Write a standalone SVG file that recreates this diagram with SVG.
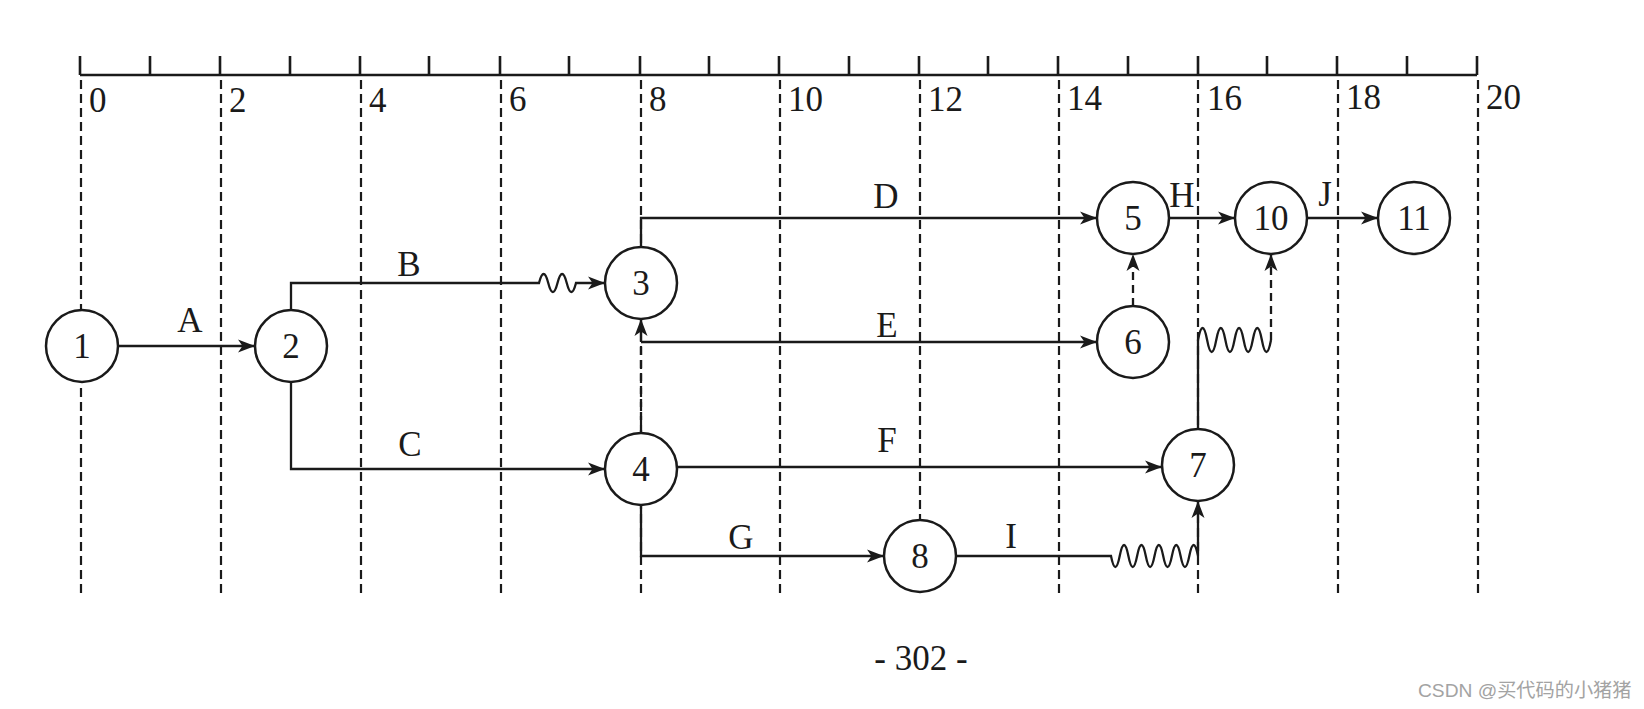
<svg xmlns="http://www.w3.org/2000/svg" width="1644" height="709" viewBox="0 0 1644 709">
<style>
.ax{stroke:#1a1a1a;stroke-width:2.6;fill:none}
.grid{stroke:#1a1a1a;stroke-width:2.2;stroke-dasharray:9 5;fill:none}
.ln{stroke:#1a1a1a;stroke-width:2.3;fill:none}
.dl{stroke:#1a1a1a;stroke-width:2.3;fill:none;stroke-dasharray:8 5}
.nd{fill:#fff;stroke:#1a1a1a;stroke-width:2.5}
.t{font-family:"Liberation Serif","Times New Roman",serif;font-size:35px;fill:#1a1a1a}
.c{text-anchor:middle}
.wm{font-family:"Liberation Sans","Noto Sans CJK SC",sans-serif;font-size:19.2px;fill:#a3a3a3}
</style>
<defs>
<marker id="ah" markerUnits="userSpaceOnUse" markerWidth="18" markerHeight="14" refX="17" refY="7" orient="auto">
<path d="M0,0.5 L17,7 L0,13.5 L4.5,7 z" fill="#1a1a1a"/>
</marker>
</defs>
<rect width="1644" height="709" fill="#fff"/>
<g id="axis">
<path class="ax" d="M80,75 H1477"/>
<path class="ax" d="M80,56 V75 M150,56 V75 M220,56 V75 M290,56 V75 M360,56 V75 M429,56 V75 M500,56 V75 M569,56 V75 M640,56 V75 M709,56 V75 M779,56 V75 M849,56 V75 M919,56 V75 M988,56 V75 M1058,56 V75 M1128,56 V75 M1198,56 V75 M1267,56 V75 M1337,56 V75 M1407,56 V75 M1477,56 V75"/>
<g class="t">
<text x="89" y="112">0</text>
<text x="229" y="112">2</text>
<text x="369" y="112">4</text>
<text x="509" y="111">6</text>
<text x="649" y="111">8</text>
<text x="788" y="111">10</text>
<text x="928" y="111">12</text>
<text x="1067" y="110">14</text>
<text x="1207" y="110">16</text>
<text x="1346" y="109">18</text>
<text x="1486" y="109">20</text>
</g>
</g>
<g id="grid">
<path class="grid" d="M81,80 V596 M221,80 V596 M361,80 V596 M501,80 V596 M641,80 V596 M780,80 V596 M920,80 V596 M1059,80 V596 M1198,80 V596 M1338,80 V596 M1478,80 V596"/>
</g>
<g id="connectors">
<path class="ln" d="M119,346 H255" marker-end="url(#ah)"/>
<path class="ln" d="M291,310 V283 H539 q4.625,-18 9.25,0 t9.25,0 t9.25,0 t9.25,0 H605" marker-end="url(#ah)"/>
<path class="ln" d="M291,382 V469 H605" marker-end="url(#ah)"/>
<path class="ln" d="M641,247 V218 H1097" marker-end="url(#ah)"/>
<path class="ln" d="M641,342 H1097" marker-end="url(#ah)"/>
<path class="dl" d="M641,433 V342"/>
<path class="ln" d="M641,342 V319" marker-end="url(#ah)"/>
<path class="ln" d="M677,467 H1162" marker-end="url(#ah)"/>
<path class="ln" d="M641,505 V556 H884" marker-end="url(#ah)"/>
<path class="ln" d="M956,556 H1111 q4.35,22 8.7,0 t8.7,0 t8.7,0 t8.7,0 t8.7,0 t8.7,0 t8.7,0 t8.7,0 t8.7,0 t8.7,0 V501" marker-end="url(#ah)"/>
<path class="ln" d="M1198,429 V340 q4.5625,-24 9.125,0 t9.125,0 t9.125,0 t9.125,0 t9.125,0 t9.125,0 t9.125,0 t9.125,0"/>
<path class="dl" d="M1271,340 V254" marker-end="url(#ah)"/>
<path class="dl" d="M1133,306 V254" marker-end="url(#ah)"/>
<path class="ln" d="M1169,218 H1235" marker-end="url(#ah)"/>
<path class="ln" d="M1307,218 H1378" marker-end="url(#ah)"/>
<g class="t c">
<text x="190" y="332">A</text>
<text x="409" y="276">B</text>
<text x="410" y="456">C</text>
<text x="886" y="208">D</text>
<text x="887" y="337">E</text>
<text x="887" y="452">F</text>
<text x="741" y="549">G</text>
<text x="1011" y="548">I</text>
<text x="1182" y="207">H</text>
<text x="1325" y="206">J</text>
</g>
</g>
<g id="n1"><circle class="nd" cx="82" cy="346" r="36"/><text class="t c" x="82" y="358">1</text></g>
<g id="n2"><circle class="nd" cx="291" cy="346" r="36"/><text class="t c" x="291" y="358">2</text></g>
<g id="n3"><circle class="nd" cx="641" cy="283" r="36"/><text class="t c" x="641" y="295">3</text></g>
<g id="n4"><circle class="nd" cx="641" cy="469" r="36"/><text class="t c" x="641" y="481">4</text></g>
<g id="n5"><circle class="nd" cx="1133" cy="218" r="36"/><text class="t c" x="1133" y="230">5</text></g>
<g id="n6"><circle class="nd" cx="1133" cy="342" r="36"/><text class="t c" x="1133" y="354">6</text></g>
<g id="n7"><circle class="nd" cx="1198" cy="465" r="36"/><text class="t c" x="1198" y="477">7</text></g>
<g id="n8"><circle class="nd" cx="920" cy="556" r="36"/><text class="t c" x="920" y="568">8</text></g>
<g id="n10"><circle class="nd" cx="1271" cy="218" r="36"/><text class="t c" x="1271" y="230">10</text></g>
<g id="n11"><circle class="nd" cx="1414" cy="218" r="36"/><text class="t c" x="1414" y="230">11</text></g>
<text class="t c" x="921" y="670">- 302 -</text>
<text class="wm" x="1418" y="697">CSDN @买代码的小猪猪</text>
</svg>
